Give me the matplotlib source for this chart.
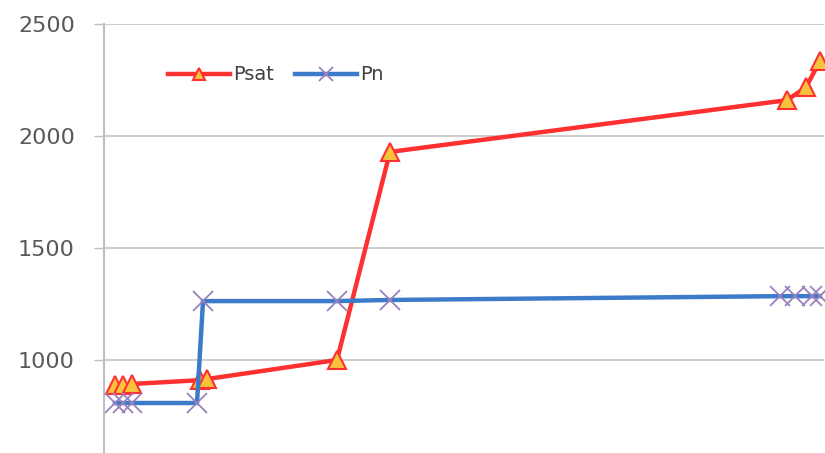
import matplotlib.pyplot as plt

# Series values (x in arbitrary units along the horizontal axis)
psat_x = [11, 19, 28, 96, 103, 233, 286, 683, 702, 716]
psat_y = [888, 888, 893, 910, 915, 1000, 1929, 2160, 2218, 2335]

pn_x = [11, 19, 28, 93, 99, 233, 286, 676, 691, 708, 716]
pn_y = [808, 808, 808, 808, 1263, 1263, 1268, 1285, 1285, 1285, 1285]

y_ticks = [1000, 1500, 2000, 2500]

W, H = 825, 453
fig = plt.figure(figsize=(W / 100, H / 100), dpi=100)

# y = 2500 sits at 24 px from the top, 500 per 112 px; axis runs below the frame
left = 104 / W
top = 1 - 24 / H
bottom = 1 - (24 + 4 * 112) / H
ax = fig.add_axes([left, bottom, 720 / W, top - bottom])

ax.plot(psat_x, psat_y, color='#FF3030', lw=3.2, marker='^', ms=13,
        mfc='#F9C23C', mec='#FF3030', mew=1.5, label='Psat', clip_on=False, zorder=3)
ax.plot(pn_x, pn_y, color='#3B7BC9', lw=3.2, marker='x', ms=15,
        mec='#9A80BE', mew=1.3, label='Pn', clip_on=False, zorder=4)

ax.set_xlim(0, 720)
ax.set_ylim(500, 2500)
ax.set_yticks(y_ticks)
ax.set_xticks([])
ax.grid(axis='y', color='#C4C4C4', lw=1.2)
ax.set_axisbelow(True)

for s in ['top', 'right', 'bottom']:
    ax.spines[s].set_visible(False)
ax.spines['left'].set_color('#BFBFBF')
ax.spines['left'].set_linewidth(1.5)
ax.tick_params(axis='y', length=7, width=1, color='#BFBFBF', pad=14,
               labelsize=16, labelcolor='#595959')

leg = ax.legend(loc='center left', bbox_to_anchor=(150 / W, 1 - 75 / H),
                bbox_transform=fig.transFigure, ncol=2, frameon=False,
                fontsize=14, handlelength=3.2, columnspacing=1.1,
                handletextpad=0.15, markerscale=0.7)
for t in leg.get_texts():
    t.set_color('#404040')

fig.savefig('out.png', dpi=100)
